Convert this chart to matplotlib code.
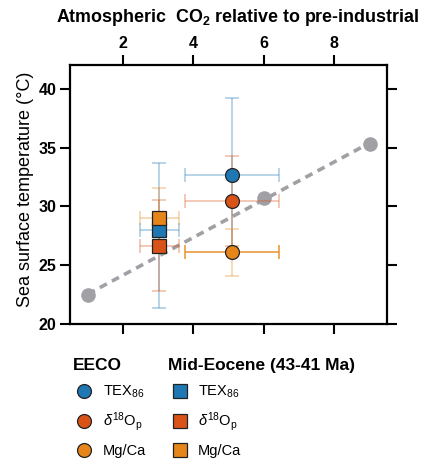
import numpy as np
import matplotlib
matplotlib.use("Agg")
import matplotlib.pyplot as plt
from matplotlib.lines import Line2D

plt.rcParams['font.family'] = ['Liberation Sans', 'DejaVu Sans']
plt.rcParams['mathtext.fontset'] = 'custom'
plt.rcParams['mathtext.rm'] = 'Liberation Sans'
plt.rcParams['mathtext.bf'] = 'Liberation Sans:bold'
plt.rcParams['mathtext.it'] = 'Liberation Sans:italic'

# proxy labels / colours
proxies = ['TEX$_{86}$', r'$\mathit{\delta}^{18}$O$_\mathrm{p}$', 'Mg/Ca']
colors = ['#1f77b4', '#d95319', '#e6861a']

# EECO (circles)
eeco_co2 = [5.1, 5.1, 5.1]
eeco_co2_err = [1.33, 1.33, 1.33]
eeco_sst = [32.7, 30.45, 26.1]
eeco_sst_lo = [6.5, 3.8, 2.0]
eeco_sst_hi = [6.5, 3.8, 2.0]

# Mid-Eocene 43-41 Ma (squares)
mid_co2 = [3.03, 3.03, 3.03]
mid_co2_err = [0.55, 0.55, 0.55]
mid_sst = [28.0, 26.65, 29.05]
mid_sst_lo = [6.6, 3.85, 2.55]
mid_sst_hi = [5.7, 3.85, 2.55]

# model / reference line
line_co2 = [1.0, 6.0, 9.0]
line_sst = [22.5, 30.7, 35.3]

fig = plt.figure(figsize=(4.25, 4.65), dpi=100)
ax = fig.add_axes([0.165, 0.303, 0.746, 0.557])

# dashed reference line + grey dots
p = np.polyfit(line_co2, line_sst, 1)
xl = np.array([line_co2[0], line_co2[-1]])
ax.plot(xl, np.polyval(p, xl), color='#a0a0a5', lw=2.6, ls=(0, (2.2, 1.6)), zorder=1)
ax.plot(line_co2, line_sst, 'o', color='#a0a0a5', ms=10.5, mec='none', zorder=1)

# error bars
for i in range(3):
    ax.errorbar(eeco_co2[i], eeco_sst[i], yerr=[[eeco_sst_lo[i]], [eeco_sst_hi[i]]],
                fmt='none', ecolor=colors[i], alpha=0.4, elinewidth=1.1, capsize=5, capthick=1.1, zorder=2)
    ax.errorbar(eeco_co2[i], eeco_sst[i], xerr=eeco_co2_err[i],
                fmt='none', ecolor=colors[i], alpha=0.9 if i == 2 else 0.4,
                elinewidth=1.1, capsize=5, capthick=1.1, zorder=2)
    ax.errorbar(mid_co2[i], mid_sst[i], yerr=[[mid_sst_lo[i]], [mid_sst_hi[i]]],
                xerr=mid_co2_err[i], fmt='none', ecolor=colors[i], alpha=0.4,
                elinewidth=1.1, capsize=5, capthick=1.1, zorder=2)

# markers
for i in range(3):
    ax.plot(eeco_co2[i], eeco_sst[i], 'o', color=colors[i], mec='#222222', mew=0.9, ms=10, zorder=4)
    ax.plot(mid_co2[i], mid_sst[i], 's', color=colors[i], mec='#222222', mew=0.9, ms=10, zorder=4)

ax.set_xlim(0.5, 9.5)
ax.set_ylim(20, 42)
ax.set_xticks([2, 4, 6, 8])
ax.set_yticks([20, 25, 30, 35, 40])
ax.tick_params(axis='x', bottom=True, top=True, labelbottom=False, labeltop=True,
               direction='out', length=7, width=1.5, pad=3, labelsize=11.5)
ax.tick_params(axis='y', left=True, right=True, labelleft=True, labelright=False,
               direction='out', length=7, width=1.5, pad=3, labelsize=11.5)
for lab in ax.get_xticklabels() + ax.get_yticklabels():
    lab.set_fontweight('bold')
for s in ax.spines.values():
    s.set_linewidth(1.6)

ax.xaxis.set_label_position('top')
ax.set_xlabel(r'Atmospheric  CO$_{\mathbf{2}}$ relative to pre-industrial',
              fontsize=12.9, fontweight='bold', labelpad=10, x=0.528)
ax.set_ylabel('Sea surface temperature (°C)', fontsize=13, labelpad=3, y=0.52)

# legends
h1 = [Line2D([], [], marker='o', ls='none', color=c, mec='#222222', mew=0.9, ms=10) for c in colors]
h2 = [Line2D([], [], marker='s', ls='none', color=c, mec='#222222', mew=0.9, ms=10) for c in colors]
fig.legend(h1, proxies, title='EECO', loc='upper left', bbox_to_anchor=(0.14, 0.258),
           frameon=False, fontsize=10.5, labelspacing=0.72, handletextpad=0.45, handlelength=1.6,
           title_fontproperties={'weight': 'bold', 'size': 12.5}, alignment='left')
fig.legend(h2, proxies, title='Mid-Eocene (43-41 Ma)', loc='upper left', bbox_to_anchor=(0.365, 0.258),
           frameon=False, fontsize=10.5, labelspacing=0.72, handletextpad=0.45, handlelength=1.6,
           title_fontproperties={'weight': 'bold', 'size': 12.5}, alignment='left')

fig.savefig('out.png', dpi=100)
